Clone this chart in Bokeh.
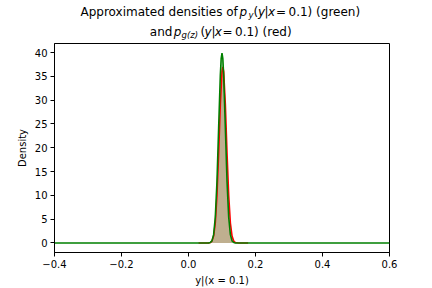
from bokeh.plotting import figure
from bokeh.layouts import column
from bokeh.models import Range1d, FixedTicker
from bokeh.core.properties import value
from bokeh.embed import file_html
from bokeh.resources import INLINE

# ---- data ----
green_x = [-0.4, 0.03, 0.05, 0.06, 0.065, 0.07, 0.075, 0.08, 0.085, 0.09, 0.095, 0.0975,
           0.1, 0.1025, 0.105, 0.11, 0.115, 0.12, 0.125, 0.13, 0.135, 0.14, 0.15, 0.18, 0.6]
green_y = [0.0, 0.0, 0.0, 0.01, 0.09, 0.44, 1.75, 5.4, 12.9, 24.2, 35.2, 38.7,
           39.9, 38.7, 35.2, 24.2, 12.9, 5.4, 1.75, 0.44, 0.09, 0.01, 0.0, 0.0, 0.0]
red_x = [0.03, 0.05, 0.06, 0.065, 0.07, 0.075, 0.08, 0.085, 0.09, 0.095, 0.1, 0.1025,
         0.105, 0.11, 0.115, 0.12, 0.125, 0.13, 0.135, 0.14, 0.15, 0.16, 0.178]
red_y = [0.0, 0.0, 0.02, 0.09, 0.40, 1.45, 4.2, 10.0, 18.9, 29.1, 36.0, 37.0,
         36.0, 29.1, 18.9, 10.0, 4.2, 1.45, 0.40, 0.09, 0.0, 0.0, 0.0]
x_ticks = [-0.4, -0.2, 0.0, 0.2, 0.4, 0.6]
x_tick_labels = ["\u22120.4", "\u22120.2", "0.0", "0.2", "0.4", "0.6"]
y_ticks = [0, 5, 10, 15, 20, 25, 30, 35, 40]

W = 432
TH = 43          # title strip height
MH = 245         # main figure height
FL, FR, FB = 54, 43, 35

# ---- main plot ----
p = figure(width=W, height=MH, output_backend="svg", toolbar_location=None,
           x_range=Range1d(-0.4, 0.6), y_range=Range1d(-2.0, 41.9),
           min_border_left=FL, min_border_right=FR, min_border_top=0, min_border_bottom=FB)
p.background_fill_color = "white"
p.border_fill_color = "white"
p.outline_line_color = "black"
p.outline_line_width = 1
p.grid.visible = False

p.varea(x=red_x, y1=0, y2=red_y, fill_color="red", fill_alpha=0.25)
p.varea(x=[v for v in green_x if 0.03 <= v <= 0.18],
        y1=0, y2=[g for v, g in zip(green_x, green_y) if 0.03 <= v <= 0.18],
        fill_color="green", fill_alpha=0.25)
p.line(red_x, red_y, line_color="red", line_width=1.6)
p.line(green_x, green_y, line_color="green", line_width=1.6)

for ax in (p.xaxis[0], p.yaxis[0]):
    ax.major_tick_out = 4
    ax.major_tick_in = 0
    ax.minor_tick_out = 0
    ax.minor_tick_in = 0
    ax.axis_line_color = "black"
    ax.major_tick_line_color = "black"
    ax.major_label_text_font = "DejaVu Sans"
    ax.major_label_text_font_size = "10px"
    ax.major_label_text_color = "black"
    ax.axis_label_text_font = "DejaVu Sans"
    ax.axis_label_text_font_size = "10px"
    ax.axis_label_text_font_style = "normal"
    ax.axis_label_text_color = "black"
    ax.major_label_standoff = 3
    ax.axis_label_standoff = 4

p.xaxis.ticker = FixedTicker(ticks=x_ticks)
p.xaxis.major_label_overrides = {t: l for t, l in zip(x_ticks, x_tick_labels)}
p.yaxis.ticker = FixedTicker(ticks=y_ticks)
p.xaxis.axis_label = "y|(x = 0.1)"
p.yaxis.axis_label = "Density"

# ---- title strip: frame is aligned with the main frame, so x range = page pixels ----
t = figure(width=W, height=TH, output_backend="svg", toolbar_location=None,
           x_range=Range1d(FL, W - FR), y_range=Range1d(TH, 0),
           x_axis_location=None, y_axis_location=None,
           min_border=0, min_border_left=FL, min_border_right=FR,
           min_border_top=0, min_border_bottom=0)
t.outline_line_color = None
t.grid.visible = False
t.background_fill_color = "white"
t.border_fill_color = "white"

b1, s1 = 11.5, 14.5
b2, s2 = 31.5, 34.5
segs_normal = [("Approximated densities of", 80, b1), ("(", 253, b1), ("|", 264, b1),
               ("=", 275.5, b1), ("0.1) (green)", 288, b1),
               ("and", 149.3, b2), ("(", 200, b2), ("|", 211, b2),
               ("=", 222, b2), ("0.1) (red)", 234.5, b2)]
segs_italic = [("p", 239, b1), ("y", 257.5, b1), ("x", 267.5, b1),
               ("p", 173.3, b2), ("y", 204, b2), ("x", 214.3, b2)]
segs_sub = [("y", 248, s1), ("g(z)", 181, s2)]

def draw(segs, size, style):
    t.text(x=[s[1] for s in segs], y=[s[2] for s in segs], text=[s[0] for s in segs],
           text_font=value("DejaVu Sans"), text_font_size=value(f"{size}px"),
           text_font_style=value(style), text_color="black",
           text_align="left", text_baseline="alphabetic")

draw(segs_normal, 12, "normal")
draw(segs_italic, 12, "italic")
draw(segs_sub, 8.5, "italic")

layout = column(t, p, spacing=0)
open("out.html", "w").write(file_html(layout, INLINE))
